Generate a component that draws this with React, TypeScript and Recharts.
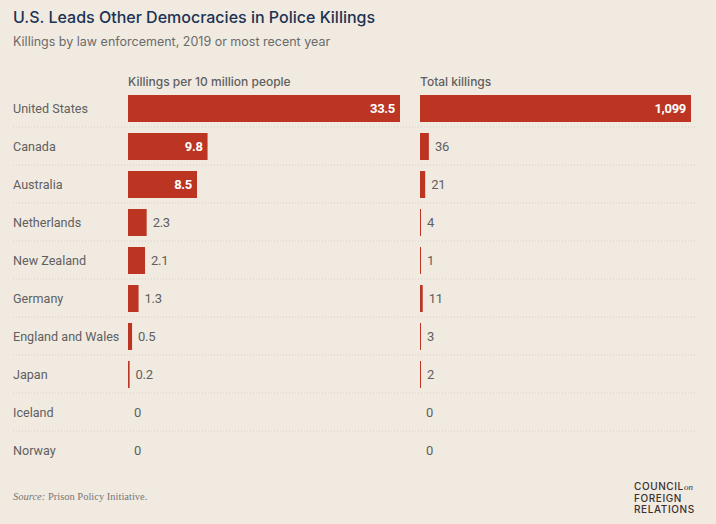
import React from 'react';
import { BarChart, Bar, XAxis, YAxis, LabelList } from 'recharts';

const countries = [
  'United States',
  'Canada',
  'Australia',
  'Netherlands',
  'New Zealand',
  'Germany',
  'England and Wales',
  'Japan',
  'Iceland',
  'Norway',
];
const ratePer10m = [33.5, 9.8, 8.5, 2.3, 2.1, 1.3, 0.5, 0.2, 0, 0];
const totalKillings = [1099, 36, 21, 4, 1, 11, 3, 2, 0, 0];

const data = countries.map((country, i) => ({
  country,
  rate: ratePer10m[i],
  total: totalKillings[i],
}));

const BG = '#f1eae1';
const RED = '#bb3522';
const GRAY = '#5f5f5f';
const FONT = 'Roboto, "Noto Sans", sans-serif';
const TITLE_FONT = 'Inter, "Noto Sans", sans-serif';

const W = 716;
const H = 524;
const MARGIN_TOP = 89;
const MARGIN_BOTTOM = 55;

const CountryTick = (props: any) => {
  const { y, payload, index } = props;
  const last = index === countries.length - 1;
  return (
    <g>
      <text x={13} y={y} dy={4.5} fill={GRAY} fontSize={12.6} fontFamily={FONT} textAnchor="start">
        {payload.value}
      </text>
      {!last && (
        <line x1={13} x2={695} y1={y + 19} y2={y + 19} stroke="#d6d0c8" strokeDasharray="1 2" strokeWidth={1} />
      )}
    </g>
  );
};

const makeLabel = (fmt: (v: number) => string) => (props: any) => {
  const { x, y, width, height, value } = props;
  const inside = width > 40;
  const cy = y + height / 2 + 4.5;
  if (inside) {
    return (
      <text x={x + width - 5} y={cy} fill="#ffffff" fontSize={13} fontWeight={700} fontFamily={FONT} textAnchor="end" letterSpacing={-0.3}>
        {fmt(value)}
      </text>
    );
  }
  return (
    <text x={x + width + 6} y={cy} fill={GRAY} fontSize={13} fontFamily={FONT} textAnchor="start" letterSpacing={-0.3}>
      {fmt(value)}
    </text>
  );
};

// keep zero bars present (invisibly thin) so their labels still draw
const minSize = (v: number) => (v > 0 ? 1 : 0.01);

export default function App() {
  return (
    <div style={{ position: 'absolute', left: 0, top: 0, width: W, height: H, background: BG, overflow: 'hidden' }}>
      <div style={{ position: 'absolute', left: 13, top: 7, fontFamily: TITLE_FONT, fontSize: 16, fontWeight: 500, color: '#1b3353', whiteSpace: 'nowrap' }}>
        U.S. Leads Other Democracies in Police Killings
      </div>
      <div style={{ position: 'absolute', left: 13, top: 34, fontFamily: TITLE_FONT, fontSize: 12.5, color: '#6b6b6b', whiteSpace: 'nowrap' }}>
        Killings by law enforcement, 2019 or most recent year
      </div>
      <div style={{ position: 'absolute', left: 128, top: 74, fontFamily: TITLE_FONT, fontSize: 12, fontWeight: 500, color: GRAY, whiteSpace: 'nowrap' }}>
        Killings per 10 million people
      </div>
      <div style={{ position: 'absolute', left: 420, top: 74, fontFamily: TITLE_FONT, fontSize: 12, fontWeight: 500, color: GRAY, whiteSpace: 'nowrap' }}>
        Total killings
      </div>

      <div style={{ position: 'absolute', left: 0, top: 0 }}>
        <BarChart
          width={W}
          height={H}
          data={data}
          layout="vertical"
          margin={{ top: MARGIN_TOP, right: 316, bottom: MARGIN_BOTTOM, left: 0 }}
          barSize={27}
        >
          <XAxis type="number" domain={[0, 33.5]} hide />
          <YAxis
            type="category"
            dataKey="country"
            width={128}
            axisLine={false}
            tickLine={false}
            tick={<CountryTick />}
            interval={0}
          />
          <Bar dataKey="rate" fill={RED} isAnimationActive={false} minPointSize={minSize as any}>
            <LabelList dataKey="rate" content={makeLabel((v) => String(v))} />
          </Bar>
        </BarChart>
      </div>

      <div style={{ position: 'absolute', left: 0, top: 0 }}>
        <BarChart
          width={W}
          height={H}
          data={data}
          layout="vertical"
          margin={{ top: MARGIN_TOP, right: 25, bottom: MARGIN_BOTTOM, left: 420 }}
          barSize={27}
        >
          <XAxis type="number" domain={[0, 1099]} hide />
          <YAxis type="category" dataKey="country" hide width={0} />
          <Bar dataKey="total" fill={RED} isAnimationActive={false} minPointSize={minSize as any}>
            <LabelList dataKey="total" content={makeLabel((v) => v.toLocaleString('en-US'))} />
          </Bar>
        </BarChart>
      </div>

      <div style={{ position: 'absolute', left: 13, top: 491, fontFamily: '"Liberation Serif", "DejaVu Serif", serif', fontSize: 10.5, color: '#777', whiteSpace: 'nowrap' }}>
        <i>Source:</i> Prison Policy Initiative.
      </div>
      <div style={{ position: 'absolute', left: 634, top: 481, fontFamily: TITLE_FONT, fontSize: 10, fontWeight: 500, color: '#3a3030', lineHeight: '11px', letterSpacing: 0.6 }}>
        <div>COUNCIL<span style={{ fontFamily: '"Liberation Serif", serif', fontStyle: 'italic', fontSize: 9, letterSpacing: 0 }}>on</span></div>
        <div>FOREIGN</div>
        <div>RELATIONS</div>
      </div>
    </div>
  );
}
